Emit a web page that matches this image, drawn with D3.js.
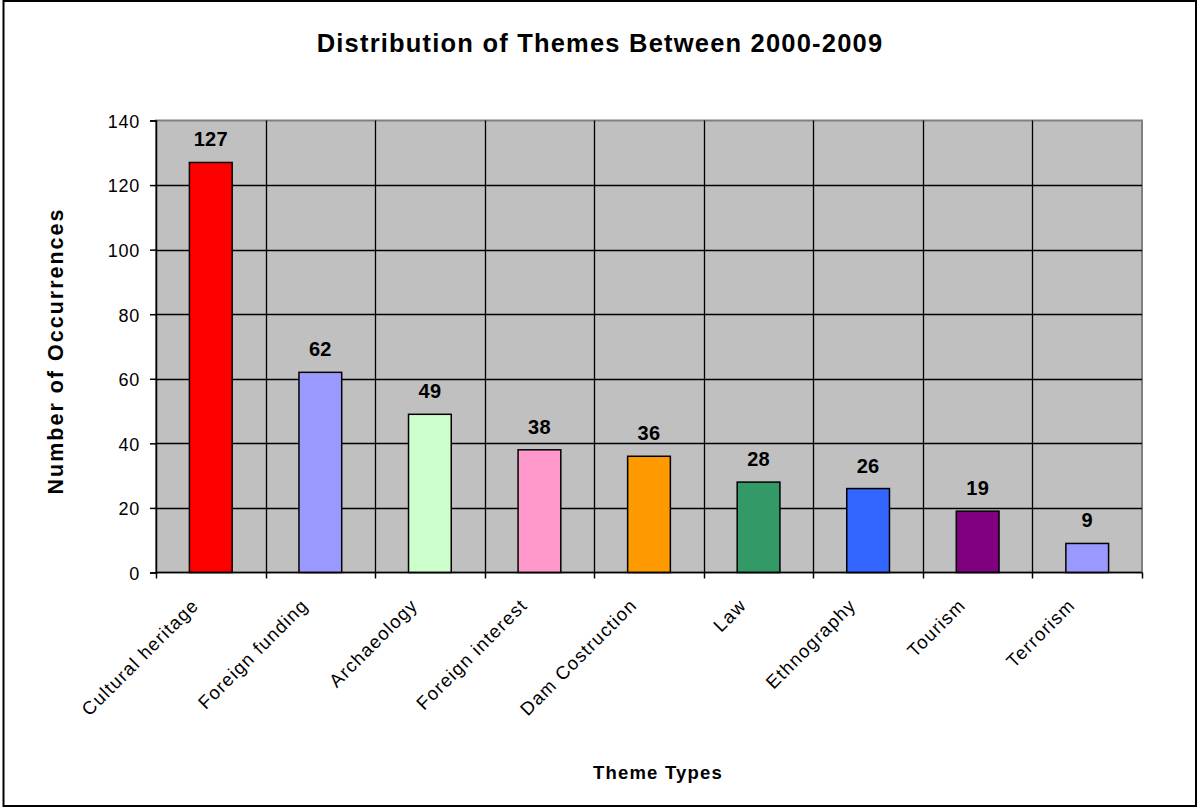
<!DOCTYPE html>
<html>
<head>
<meta charset="utf-8">
<script src="https://cdn.jsdelivr.net/npm/d3@7"></script>
<style>
  html, body { margin: 0; padding: 0; background: #ffffff; }
  svg { display: block; font-family: "Liberation Sans", Arial, sans-serif; }
</style>
</head>
<body>
<svg id="chart" width="1199" height="811"></svg>
<script>
// Theme categories and their occurrence counts, 2000-2009
const categories = ["Cultural heritage", "Foreign funding", "Archaeology", "Foreign interest",
  "Dam Costruction", "Law", "Ethnography", "Tourism", "Terrorism"];
const counts = [127, 62, 49, 38, 36, 28, 26, 19, 9];
const barColors = ["#FF0000", "#9999FF", "#CCFFCC", "#FF99CC", "#FF9900",
  "#339966", "#3366FF", "#800080", "#9999FF"];
const yTicks = [0, 20, 40, 60, 80, 100, 120, 140];

const svg = d3.select("#chart");
const plot = { left: 156, right: 1142, top: 120.5, bottom: 572.5 };

// outer chart frame
svg.append("rect")
  .attr("x", 3.5).attr("y", 1).attr("width", 1192.5).attr("height", 805)
  .attr("fill", "#fff").attr("stroke", "#000").attr("stroke-width", 2);

const x = d3.scaleBand().domain(categories).range([plot.left, plot.right]).padding(0);
const y = d3.scaleLinear().domain([0, 140]).range([plot.bottom, plot.top]);

// plot area background
svg.append("rect")
  .attr("x", plot.left).attr("y", plot.top)
  .attr("width", plot.right - plot.left).attr("height", plot.bottom - plot.top)
  .attr("fill", "#C0C0C0").attr("stroke", "#808080").attr("stroke-width", 2);

// horizontal gridlines
svg.append("g").selectAll("line")
  .data(yTicks.filter(v => v > 0 && v < 140))
  .join("line")
  .attr("x1", plot.left).attr("x2", plot.right)
  .attr("y1", d => Math.round(y(d)) + 0.5).attr("y2", d => Math.round(y(d)) + 0.5)
  .attr("stroke", "#000").attr("stroke-width", 1.3);

// vertical gridlines at category boundaries
svg.append("g").selectAll("line")
  .data(categories.slice(1))
  .join("line")
  .attr("x1", d => Math.round(x(d)) + 0.5).attr("x2", d => Math.round(x(d)) + 0.5)
  .attr("y1", plot.top).attr("y2", plot.bottom)
  .attr("stroke", "#000").attr("stroke-width", 1.3);

// bars
const barW = x.bandwidth() * 0.39;
svg.append("g").selectAll("rect")
  .data(categories)
  .join("rect")
  .attr("x", d => x(d) + x.bandwidth() / 2 - barW / 2)
  .attr("y", (d, i) => y(counts[i]))
  .attr("width", barW)
  .attr("height", (d, i) => y(0) - y(counts[i]))
  .attr("fill", (d, i) => barColors[i])
  .attr("stroke", "#000").attr("stroke-width", 1.5);

// value labels
svg.append("g").selectAll("text")
  .data(categories)
  .join("text")
  .attr("x", d => x(d) + x.bandwidth() / 2)
  .attr("y", (d, i) => y(counts[i]) - 16)
  .attr("text-anchor", "middle")
  .attr("font-size", 20).attr("font-weight", "bold")
  .attr("letter-spacing", 0.3)
  .text((d, i) => counts[i]);

// y axis
const yAxis = svg.append("g")
  .attr("transform", `translate(${plot.left},0)`)
  .call(d3.axisLeft(y).tickValues(yTicks).tickSize(6).tickPadding(10).tickFormat(d3.format("d")));
yAxis.select(".domain").attr("stroke", "#000").attr("stroke-width", 1.5);
yAxis.selectAll(".tick line").attr("stroke", "#000").attr("stroke-width", 1.5);
yAxis.selectAll(".tick text")
  .attr("font-family", "Liberation Sans, Arial, sans-serif")
  .attr("font-size", 18).attr("fill", "#000").attr("letter-spacing", 0.7)
  .attr("dy", "0.38em");

// x axis: ticks at category boundaries
const xAxisG = svg.append("g");
xAxisG.append("line")
  .attr("x1", plot.left).attr("x2", plot.right)
  .attr("y1", plot.bottom).attr("y2", plot.bottom)
  .attr("stroke", "#000").attr("stroke-width", 1.5);
xAxisG.selectAll("line.tk")
  .data(categories.map(d => x(d)).concat([plot.right]))
  .join("line").attr("class", "tk")
  .attr("x1", d => Math.round(d) + 0.5).attr("x2", d => Math.round(d) + 0.5)
  .attr("y1", plot.bottom).attr("y2", plot.bottom + 6)
  .attr("stroke", "#000").attr("stroke-width", 1.5);

// rotated category labels
xAxisG.selectAll("text")
  .data(categories)
  .join("text")
  .attr("transform", d => `translate(${x(d) + x.bandwidth() / 2 - 11},${plot.bottom + 34}) rotate(-45)`)
  .attr("text-anchor", "end")
  .attr("font-size", 18.5).attr("letter-spacing", 1.2)
  .text(d => d);

// title
svg.append("text")
  .attr("x", 600).attr("y", 52)
  .attr("text-anchor", "middle")
  .attr("font-size", 25.5).attr("font-weight", "bold").attr("letter-spacing", 1.2)
  .text("Distribution of Themes Between 2000-2009");

// axis titles
svg.append("text")
  .attr("x", 658).attr("y", 779)
  .attr("text-anchor", "middle")
  .attr("font-size", 18.5).attr("font-weight", "bold").attr("letter-spacing", 1.2)
  .text("Theme Types");

svg.append("text")
  .attr("transform", "translate(63,351) rotate(-90)")
  .attr("text-anchor", "middle")
  .attr("font-size", 21.5).attr("font-weight", "bold").attr("letter-spacing", 2)
  .text("Number of Occurrences");
</script>
</body>
</html>
